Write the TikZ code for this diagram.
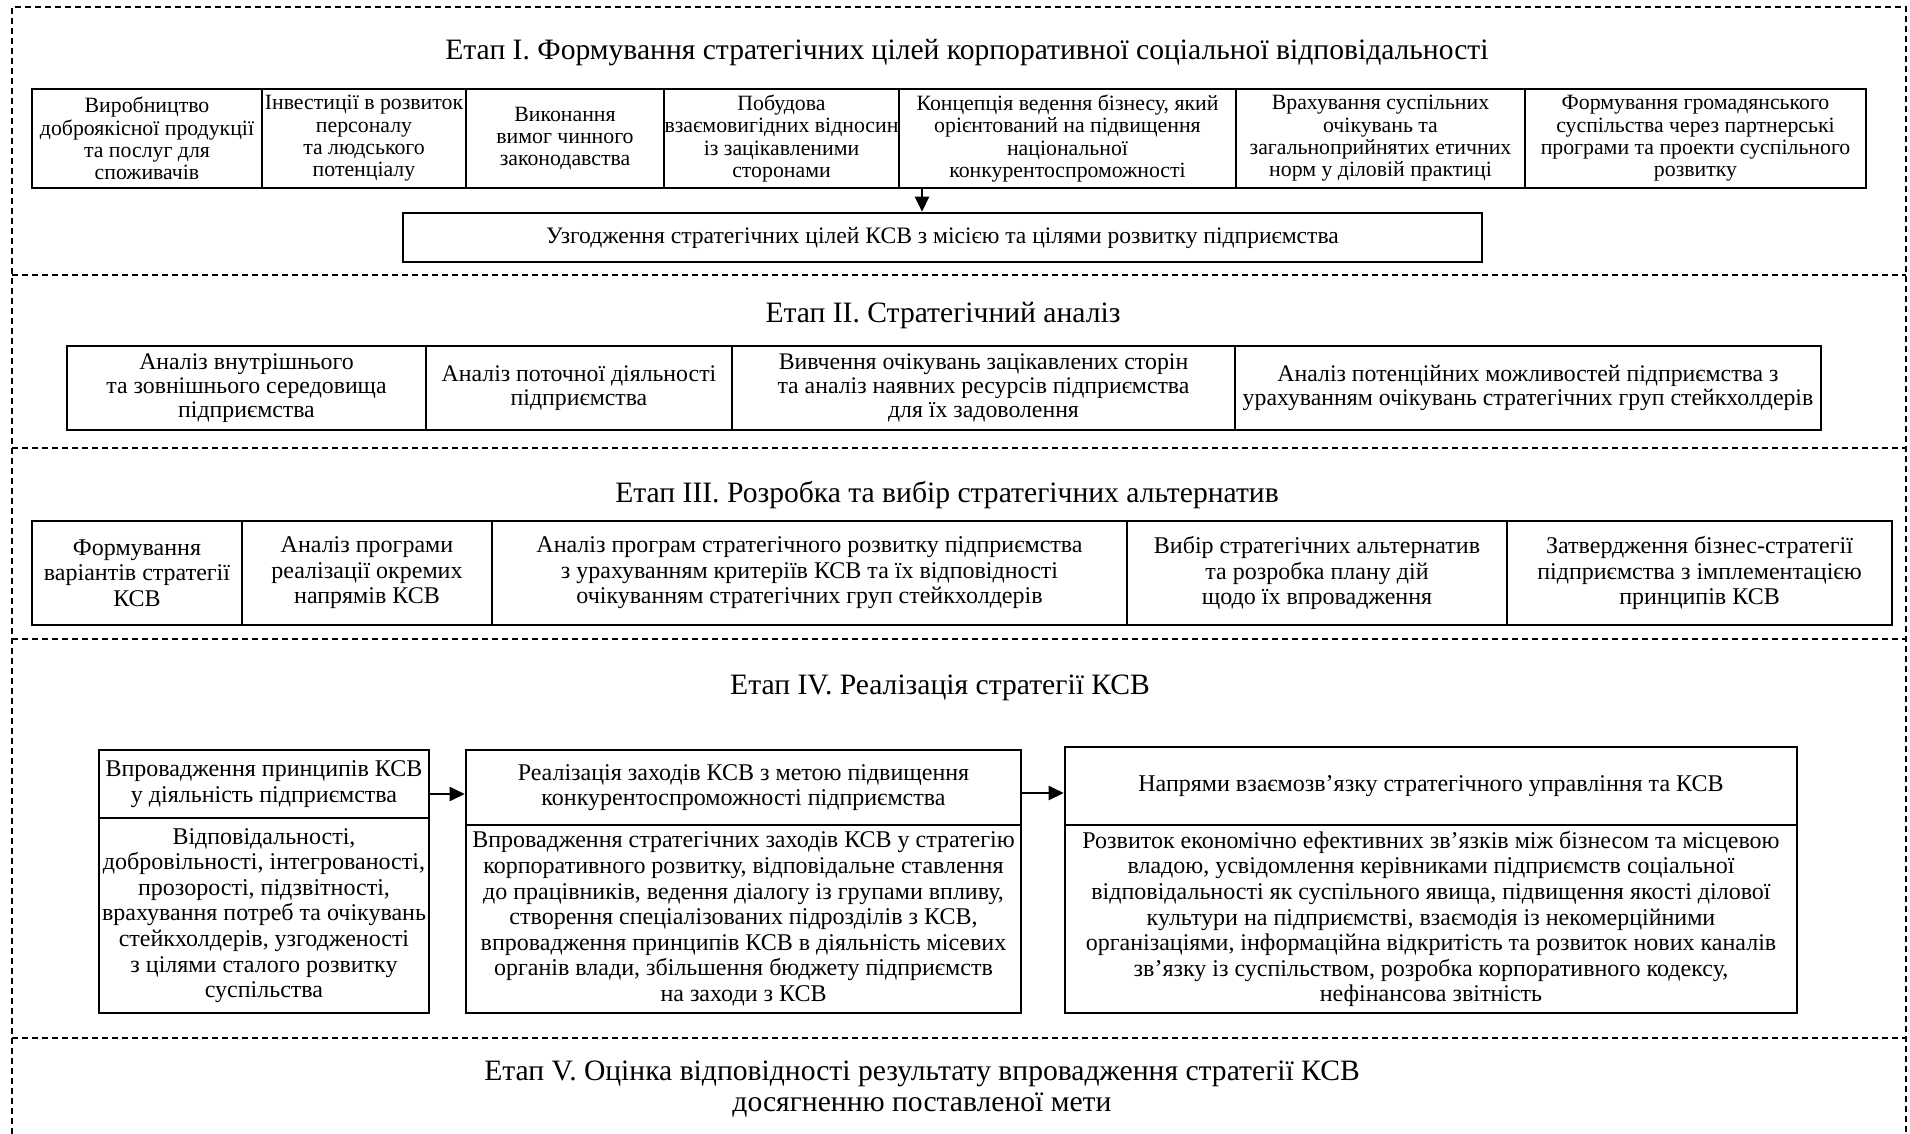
\documentclass[tikz,border=0pt]{standalone}
\usepackage{fontspec}
\setmainfont{Liberation Serif}
\usetikzlibrary{arrows.meta}
\newcommand\mybox[7][]{%
 \pgfmathsetmacro\bw{(#5-#3)*0.5}%
 \pgfmathsetmacro\bh{(#6-#4)*0.5}%
 \node[bx,#1,minimum width=\bw pt,minimum height=\bh pt] (#2) at ({(#3+#5)/2},{(#4+#6)/2}) {};
 \node[bxt,#1] (#2-t) at (#2.center) {#7};}
\begin{document}
\begin{tikzpicture}[x=0.5pt,y=-0.5pt,
 bx/.style={draw, line width=1.3pt, inner sep=0pt},
 bxt/.style={draw=none, align=center, inner sep=0pt, font=\fontsize{10.9}{11.15}\selectfont},
 bxag/.style={font=\fontsize{11.8}{13}\selectfont},
 bxii/.style={font=\fontsize{11.9}{11.9}\selectfont},
 bxiii/.style={font=\fontsize{12}{12.8}\selectfont},
 bxiv/.style={font=\fontsize{12}{12.8}\selectfont},
 ttl/.style={font=\fontsize{14.8}{15.2}\selectfont, align=center, inner sep=0pt},
 frm/.style={line width=0.6pt, dash pattern=on 3pt off 2pt},
 arr/.style={-{Triangle[length=7.5pt,width=7pt]}, line width=1.2pt}]
\useasboundingbox (0,0) rectangle (1910,1134);
% frame
\draw[frm] (12,1134) -- (12,7) -- (1906,7) -- (1906,1134);
\foreach \yy in {275,448,639,1038} \draw[frm] (12,\yy) -- (1906,\yy);
% Stage I
\node[ttl] (t1) at (967,53) {Етап І. Формування стратегічних цілей корпоративної соціальної відповідальності};
\mybox{a1}{32}{89}{262}{188}{Виробництво\\доброякісної продукції\\та послуг для\\споживачів}
\mybox{a2}{262}{89}{466}{188}{Інвестиції в розвиток\\персоналу\\та людського\\потенціалу}
\mybox{a3}{466}{89}{664}{188}{Виконання\\вимог чинного\\законодавства}
\mybox{a4}{664}{89}{899}{188}{Побудова\\взаємовигідних відносин\\із зацікавленими\\сторонами}
\mybox{a5}{899}{89}{1236}{188}{Концепція ведення бізнесу, який\\орієнтований на підвищення\\національної\\конкурентоспроможності}
\mybox{a6}{1236}{89}{1525}{188}{Врахування суспільних\\очікувань та\\загальноприйнятих етичних\\норм у діловій практиці}
\mybox{a7}{1525}{89}{1866}{188}{Формування громадянського\\суспільства через партнерські\\програми та проекти суспільного\\розвитку}
\mybox[bxag]{agree}{403}{213}{1482}{262}{Узгодження стратегічних цілей КСВ з місією та цілями розвитку підприємства}
\coordinate (ax) at (922,0);
\draw[arr] (a5.south -| ax) -- (agree.north -| ax);
% Stage II
\node[ttl] (t2) at (943,316) {Етап ІІ. Стратегічний аналіз};
\mybox[bxii]{b1}{67}{346}{426}{430}{Аналіз внутрішнього\\та зовнішнього середовища\\підприємства}
\mybox[bxii]{b2}{426}{346}{732}{430}{Аналіз поточної діяльності\\підприємства}
\mybox[bxii]{b3}{732}{346}{1235}{430}{Вивчення очікувань зацікавлених сторін\\та аналіз наявних ресурсів підприємства\\для їх задоволення}
\mybox[bxii]{b4}{1235}{346}{1821}{430}{Аналіз потенційних можливостей підприємства з\\урахуванням очікувань стратегічних груп стейкхолдерів}
% Stage III
\node[ttl] (t3) at (947,495) {Етап ІІІ. Розробка та вибір стратегічних альтернатив};
\mybox[bxiii]{c1}{32}{521}{242}{625}{Формування\\варіантів стратегії\\КСВ}
\mybox[bxiii]{c2}{242}{521}{492}{625}{Аналіз програми\\реалізації окремих\\напрямів КСВ}
\mybox[bxiii]{c3}{492}{521}{1127}{625}{Аналіз програм стратегічного розвитку підприємства\\з урахуванням критеріїв КСВ та їх відповідності\\очікуванням стратегічних груп стейкхолдерів}
\mybox[bxiii]{c4}{1127}{521}{1507}{625}{Вибір стратегічних альтернатив\\та розробка плану дій\\щодо їх впровадження}
\mybox[bxiii]{c5}{1507}{521}{1892}{625}{Затвердження бізнес-стратегії\\підприємства з імплементацією\\принципів КСВ}
% Stage IV
\node[ttl] (t4) at (940,688) {Етап IV. Реалізація стратегії КСВ};
\mybox[bxiv]{h1}{99}{750}{429}{818}{Впровадження принципів КСВ\\у діяльність підприємства}
\mybox[bxiv]{d1}{99}{818}{429}{1013}{Відповідальності,\\добровільності, інтегрованості,\\прозорості, підзвітності,\\врахування потреб та очікувань\\стейкхолдерів, узгодженості\\з цілями сталого розвитку\\суспільства}
\mybox[bxiv]{h2}{466}{750}{1021}{825}{Реалізація заходів КСВ з метою підвищення\\конкурентоспроможності підприємства}
\mybox[bxiv]{d2}{466}{825}{1021}{1013}{Впровадження стратегічних заходів КСВ у стратегію\\корпоративного розвитку, відповідальне ставлення\\до працівників, ведення діалогу із групами впливу,\\створення спеціалізованих підрозділів з КСВ,\\впровадження принципів КСВ в діяльність місевих\\органів влади, збільшення бюджету підприємств\\на заходи з КСВ}
\mybox[bxiv]{h3}{1065}{747}{1797}{825}{Напрями взаємозв’язку стратегічного управління та КСВ}
\mybox[bxiv]{d3}{1065}{825}{1797}{1013}{Розвиток економічно ефективних зв’язків між бізнесом та місцевою\\владою, усвідомлення керівниками підприємств соціальної\\відповідальності як суспільного явища, підвищення якості ділової\\культури на підприємстві, взаємодія із некомерційними\\організаціями, інформаційна відкритість та розвиток нових каналів\\зв’язку із суспільством, розробка корпоративного кодексу,\\нефінансова звітність}
\coordinate (ay1) at (0,794);
\coordinate (ay2) at (0,793);
\draw[arr] (h1.east |- ay1) -- (h2.west |- ay1);
\draw[arr] (h2.east |- ay2) -- (h3.west |- ay2);
% Stage V
\node[ttl] (t5) at (922,1089) {Етап V. Оцінка відповідності результату впровадження стратегії КСВ\\досягненню поставленої мети};
\end{tikzpicture}
\end{document}
